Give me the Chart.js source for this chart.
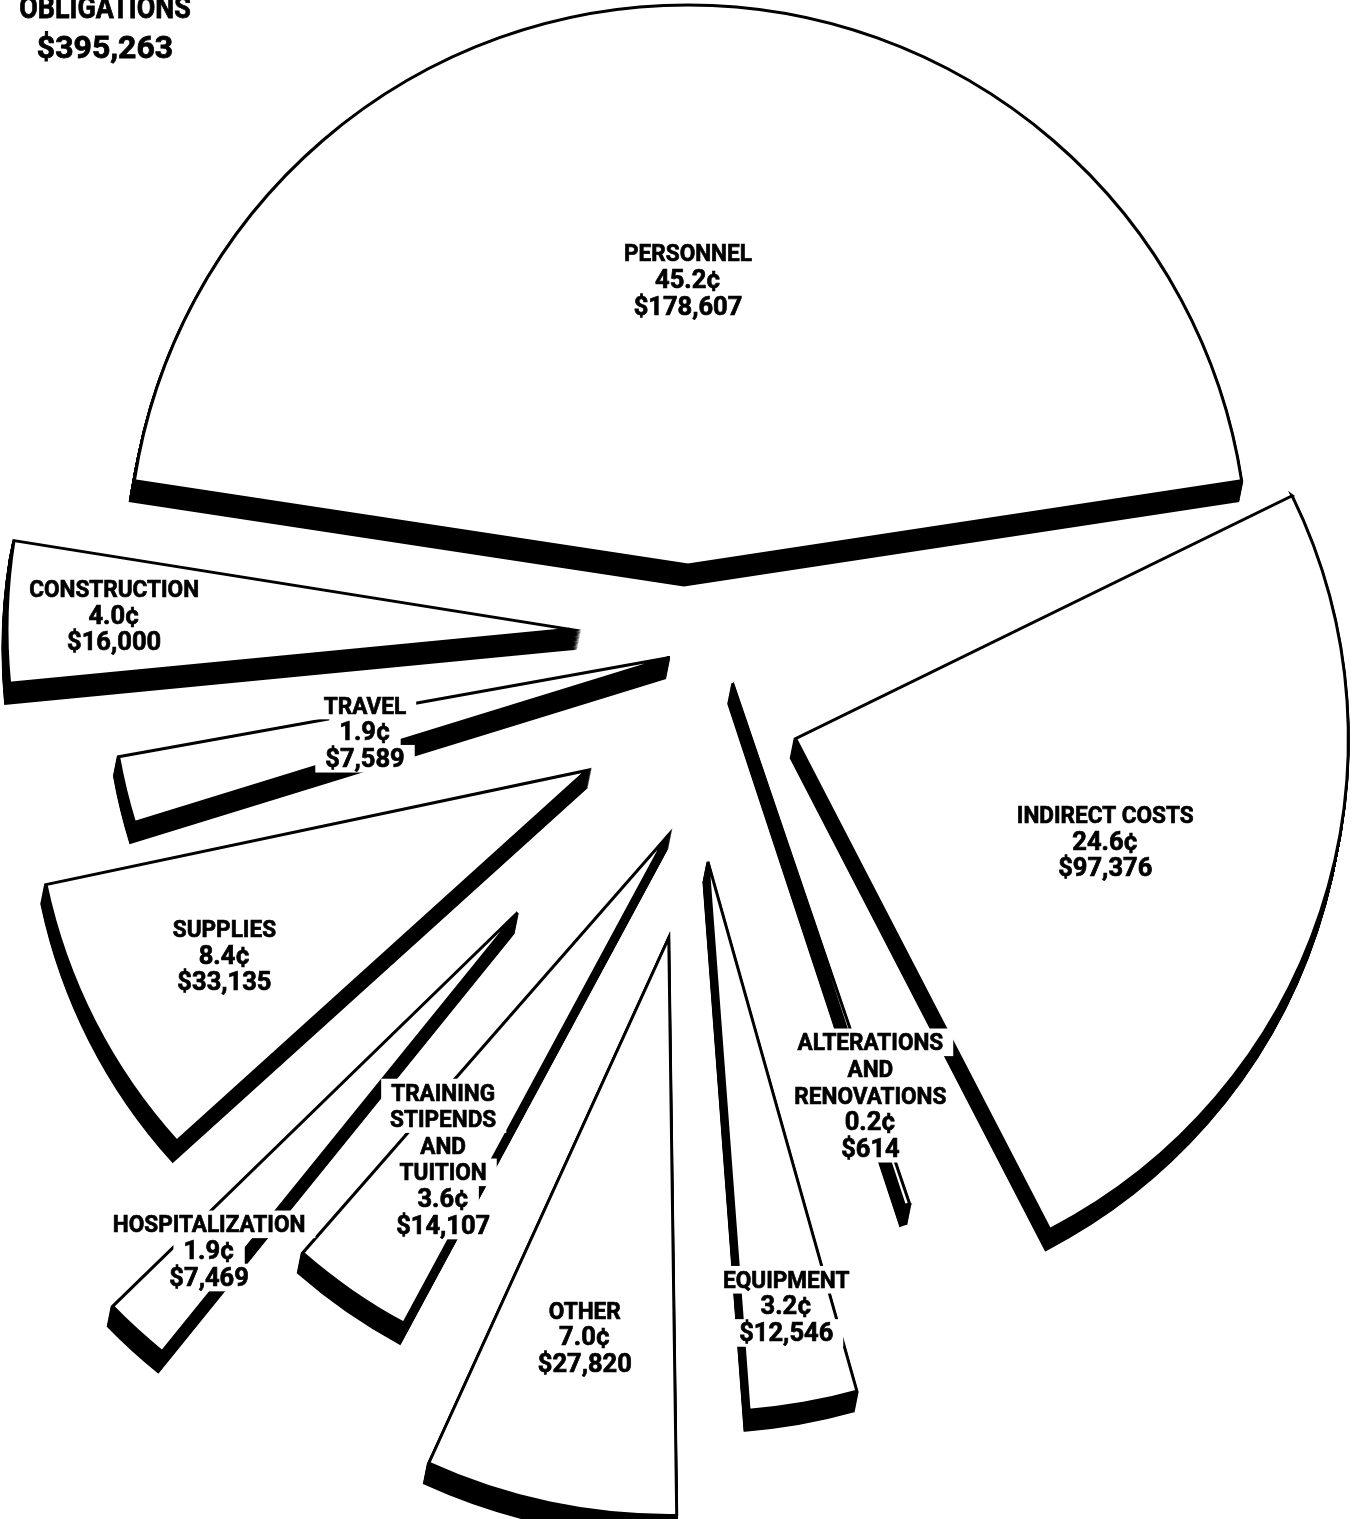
<!DOCTYPE html>
<html>
<head>
<meta charset="utf-8">
<script src="https://cdn.jsdelivr.net/npm/chart.js@4.4.1/dist/chart.umd.min.js"></script>
<style>
  html, body { margin: 0; padding: 0; background: #ffffff; }
  canvas { display: block; }
</style>
</head>
<body>
<canvas id="chart" width="1359" height="1519"></canvas>
<script>
// ---- Data: obligations by object class (dollars) ----
const categories = [
  'PERSONNEL', 'INDIRECT COSTS', 'ALTERATIONS AND RENOVATIONS', 'EQUIPMENT', 'OTHER',
  'TRAINING STIPENDS AND TUITION', 'HOSPITALIZATION', 'SUPPLIES', 'TRAVEL', 'CONSTRUCTION'
];
const labelLines = [
  ['PERSONNEL'], ['INDIRECT COSTS'], ['ALTERATIONS', 'AND', 'RENOVATIONS'], ['EQUIPMENT'], ['OTHER'],
  ['TRAINING', 'STIPENDS', 'AND', 'TUITION'], ['HOSPITALIZATION'], ['SUPPLIES'], ['TRAVEL'], ['CONSTRUCTION']
];
const amounts = [178607, 97376, 614, 12546, 27820, 14107, 7469, 33135, 7589, 16000];
const centsPerDollar = [45.2, 24.6, 0.2, 3.2, 7.0, 3.6, 1.9, 8.4, 1.9, 4.0];
const totalObligations = 395263;
const titleLines = ['OBLIGATIONS', '$395,263'];

// ---- Styling of the exploded pie (per slice) ----
const sliceTilt    = [0, -17.4, -8.8, -6.3, -2.8, 1.0, -1.2, 0.9, -4.3, 0.4];   // degrees
const sliceExplode = [155, 108, -21, 143, 217, 111, 257, 113, 3, 121];          // px along bisector
const sliceDrift   = [0, -16, -54, 5, -26, -49, -4, 1, 65, 87];                 // px across bisector
const sliceRadius  = [1.009, 0.996, 0.991, 0.991, 1.041, 0.991, 1.018, 0.996, 1.009, 1.014];
const labelAt      = [0.51, 0.59, 0.79, 0.82, 0.706, 0.707, 0.81, 0.736, 0.56, 0.81];

const SHADOW_DX = -4;
const SHADOW_DY = 20;
const FONT = 'Roboto, "Liberation Sans", Arial, sans-serif';

function fmtDollars(v) { return '$' + v.toLocaleString('en-US'); }

// Lines made of figures are set a little wider than lettered lines
function isFigures(t) { return /^[\d$.,\u00A2]+$/.test(t); }

// Draw a centred block of heavy, condensed lines on white boxes
function drawTextBlock(ctx, lines, cx, cy, size, lineH, padX) {
  ctx.save();
  const top = cy - lines.length * lineH / 2;
  const metrics = lines.map(t => {
    const fig = isFigures(t);
    const fs = fig ? size + 1 : size;
    const sx = fig ? 1.02 : 0.94;
    ctx.font = '700 ' + fs + 'px ' + FONT;
    return { t, fs, sx, w: ctx.measureText(t).width * sx };
  });
  ctx.fillStyle = '#ffffff';
  metrics.forEach((m, k) => {
    ctx.fillRect(cx - m.w / 2 - padX, top + k * lineH, m.w + 2 * padX, lineH + 1);
  });
  ctx.fillStyle = '#000000';
  ctx.strokeStyle = '#000000';
  ctx.lineWidth = 0.7;
  ctx.textAlign = 'center';
  ctx.textBaseline = 'alphabetic';
  metrics.forEach((m, k) => {
    const yMid = top + (k + 0.5) * lineH;
    ctx.save();
    ctx.font = '700 ' + m.fs + 'px ' + FONT;
    ctx.translate(cx, yMid + size * 0.355);
    ctx.scale(m.sx, 1);
    ctx.fillText(m.t, 0, 0);
    ctx.strokeText(m.t, 0, 0);
    ctx.restore();
  });
  ctx.restore();
}

const explodedPie = {
  id: 'explodedPie',
  afterDatasetsUpdate(chart) {
    const meta = chart.getDatasetMeta(0);
    const base = meta.controller.outerRadius;
    meta.data.forEach((arc, i) => {
      const tilt = sliceTilt[i] * Math.PI / 180;
      const start = arc.startAngle + tilt;
      const end = arc.endAngle + tilt;
      const mid = (start + end) / 2;
      const cx = arc.x, cy = arc.y;
      arc.startAngle = start;
      arc.endAngle = end;
      arc.x = cx + sliceExplode[i] * Math.cos(mid) - sliceDrift[i] * Math.sin(mid);
      arc.y = cy + sliceExplode[i] * Math.sin(mid) + sliceDrift[i] * Math.cos(mid);
      arc.outerRadius = base * sliceRadius[i];
    });
  },
  beforeDatasetsDraw(chart) {
    // solid black extrusion under every slice
    const ctx = chart.ctx;
    const meta = chart.getDatasetMeta(0);
    const steps = 24;
    ctx.save();
    ctx.fillStyle = '#000';
    ctx.strokeStyle = '#000';
    ctx.lineWidth = 3;
    ctx.lineJoin = 'miter';
    meta.data.forEach(arc => {
      for (let s = 1; s <= steps; s++) {
        const ox = SHADOW_DX * s / steps, oy = SHADOW_DY * s / steps;
        ctx.beginPath();
        ctx.moveTo(arc.x + ox, arc.y + oy);
        ctx.arc(arc.x + ox, arc.y + oy, arc.outerRadius, arc.startAngle, arc.endAngle);
        ctx.closePath();
        ctx.fill();
        ctx.stroke();
      }
    });
    ctx.restore();
  },
  afterDatasetsDraw(chart) {
    const ctx = chart.ctx;
    const meta = chart.getDatasetMeta(0);
    meta.data.forEach((arc, i) => {
      const mid = (arc.startAngle + arc.endAngle) / 2;
      const d = arc.outerRadius * labelAt[i];
      const lx = arc.x + d * Math.cos(mid);
      const ly = arc.y + d * Math.sin(mid);
      const lines = labelLines[i].concat([centsPerDollar[i].toFixed(1) + '\u00A2', fmtDollars(amounts[i])]);
      drawTextBlock(ctx, lines, lx, ly, 24, 26.6, 10);
    });
  },
  afterDraw(chart) {
    const ctx = chart.ctx;
    ctx.save();
    ctx.font = '700 32px ' + FONT;
    ctx.fillStyle = '#000';
    ctx.strokeStyle = '#000';
    ctx.lineWidth = 0.8;
    ctx.textAlign = 'center';
    ctx.textBaseline = 'alphabetic';
    [[titleLines[0], 18, 0.84], [titleLines[1], 58, 1.0]].forEach(([t, y, sx]) => {
      ctx.save();
      ctx.translate(105, y);
      ctx.scale(sx, 1);
      ctx.fillText(t, 0, 0);
      ctx.strokeText(t, 0, 0);
      ctx.restore();
    });
    ctx.restore();
  }
};

new Chart(document.getElementById('chart'), {
  type: 'pie',
  data: {
    labels: categories,
    datasets: [{
      data: amounts,
      backgroundColor: '#ffffff',
      borderColor: '#000000',
      borderWidth: 3,
      borderJoinStyle: 'miter'
    }]
  },
  options: {
    responsive: false,
    animation: false,
    events: [],
    rotation: -amounts[0] / totalObligations * 180,
    radius: 555,
    layout: { padding: { left: 133, right: 116, top: 165, bottom: 244 } },
    plugins: {
      legend: { display: false },
      tooltip: { enabled: false },
      title: { display: false }
    }
  },
  plugins: [explodedPie]
});
</script>
</body>
</html>
